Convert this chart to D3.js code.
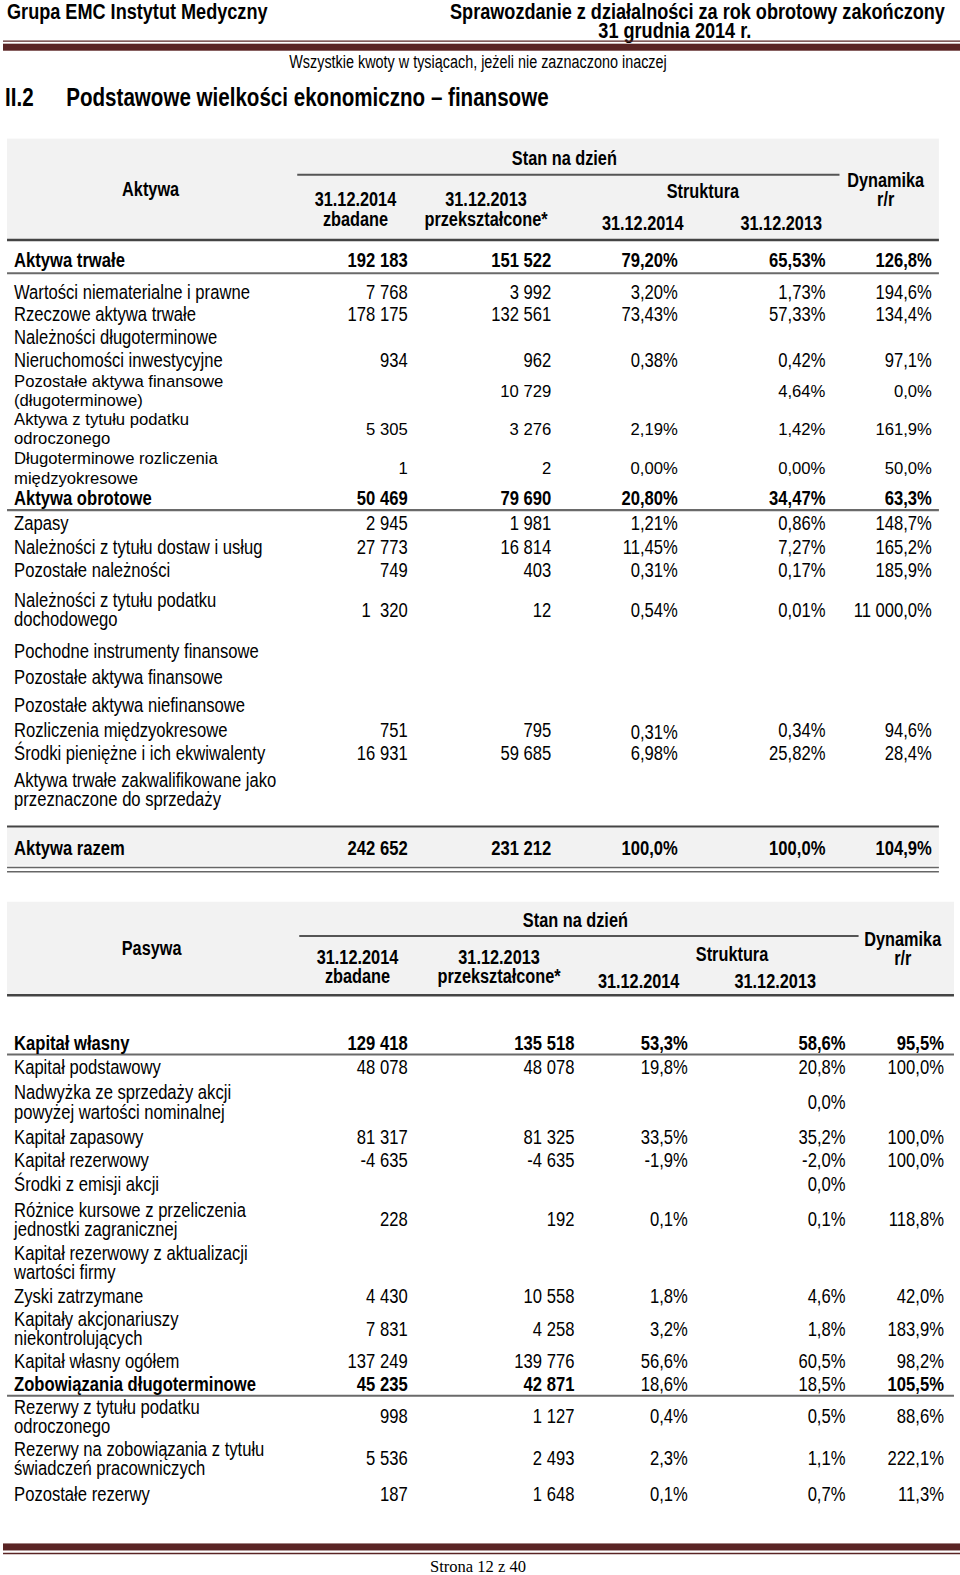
<!DOCTYPE html>
<html><head><meta charset="utf-8">
<script src="https://cdn.jsdelivr.net/npm/d3@7/dist/d3.min.js"></script>
<style>html,body{margin:0;padding:0;background:#fff}svg{display:block}text{white-space:pre}</style>
</head><body>
<script>
// ---------- DATA ----------
const assetLabels = [["Aktywa trwałe"],["Wartości niematerialne i prawne"],["Rzeczowe aktywa trwałe"],["Należności długoterminowe"],["Nieruchomości inwestycyjne"],["Pozostałe aktywa finansowe","(długoterminowe)"],["Aktywa z tytułu podatku","odroczonego"],["Długoterminowe rozliczenia","międzyokresowe"],["Aktywa obrotowe"],["Zapasy"],["Należności z tytułu dostaw i usług"],["Pozostałe należności"],["Należności z tytułu podatku","dochodowego"],["Pochodne instrumenty finansowe"],["Pozostałe aktywa finansowe"],["Pozostałe aktywa niefinansowe"],["Rozliczenia międzyokresowe"],["Środki pieniężne i ich ekwiwalenty"],["Aktywa trwałe zakwalifikowane jako","przeznaczone do sprzedaży"],["Aktywa razem"]];
const assetV2014 = ["192 183","7 768","178 175","","934","","5 305","1","50 469","2 945","27 773","749","1  320","","","","751","16 931","","242 652"];
const assetV2013 = ["151 522","3 992","132 561","","962","10 729","3 276","2","79 690","1 981","16 814","403","12","","","","795","59 685","","231 212"];
const assetS2014 = ["79,20%","3,20%","73,43%","","0,38%","","2,19%","0,00%","20,80%","1,21%","11,45%","0,31%","0,54%","","","","0,31%","6,98%","","100,0%"];
const assetS2013 = ["65,53%","1,73%","57,33%","","0,42%","4,64%","1,42%","0,00%","34,47%","0,86%","7,27%","0,17%","0,01%","","","","0,34%","25,82%","","100,0%"];
const assetDyn   = ["126,8%","194,6%","134,4%","","97,1%","0,0%","161,9%","50,0%","63,3%","148,7%","165,2%","185,9%","11 000,0%","","","","94,6%","28,4%","","104,9%"];

const liabLabels = [["Kapitał własny"],["Kapitał podstawowy"],["Nadwyżka ze sprzedaży akcji","powyżej wartości nominalnej"],["Kapitał zapasowy"],["Kapitał rezerwowy"],["Środki z emisji akcji"],["Różnice kursowe z przeliczenia","jednostki zagranicznej"],["Kapitał rezerwowy z aktualizacji","wartości firmy"],["Zyski zatrzymane"],["Kapitały akcjonariuszy","niekontrolujących"],["Kapitał własny ogółem"],["Zobowiązania długoterminowe"],["Rezerwy z tytułu podatku","odroczonego"],["Rezerwy na zobowiązania z tytułu","świadczeń pracowniczych"],["Pozostałe rezerwy"]];
const liabV2014 = ["129 418","48 078","","81 317","-4 635","","228","","4 430","7 831","137 249","45 235","998","5 536","187"];
const liabV2013 = ["135 518","48 078","","81 325","-4 635","","192","","10 558","4 258","139 776","42 871","1 127","2 493","1 648"];
const liabS2014 = ["53,3%","19,8%","","33,5%","-1,9%","","0,1%","","1,8%","3,2%","56,6%","18,6%","0,4%","2,3%","0,1%"];
const liabS2013 = ["58,6%","20,8%","0,0%","35,2%","-2,0%","0,0%","0,1%","","4,6%","1,8%","60,5%","18,5%","0,5%","1,1%","0,7%"];
const liabDyn   = ["95,5%","100,0%","","100,0%","100,0%","","118,8%","","42,0%","183,9%","98,2%","105,5%","88,6%","222,1%","11,3%"];

const headerCols = ["31.12.2014","zbadane","31.12.2013","przekształcone*","Struktura","Dynamika","r/r"];

// ---------- LAYOUT (styles / spacing) ----------
const assetRowStep = [0,31,22,23,23,31,38,39,30,25,23,23,40,41,26,28,25,23,36,58];
const liabRowStep  = [0,24,35,35,23,24,35,43,33,33,32,23,32,42,35];
const assetWide = new Set([5,6,7]);
const assetBold = {0:"all",8:"all",19:"all"};
const liabBold  = {0:"all",11:[0,1,2,5]};

// ---------- FONT HELPERS ----------
// Narrow (condensed) text is drawn with Liberation Sans compressed horizontally.
const SANS = '"Liberation Sans", Arial, sans-serif';
const NX = 0.82;

const W=960,H=1575;
const root=d3.select("body").append("svg").attr("width",W).attr("height",H);
const svg=root.append("g").attr("transform",`scale(${960/956})`);

// multi-line text in a single <text> element; lines: [{x,y,s,anchor}]
function txtLines(lines,o={}){
  const size=o.size||16, weight=o.bold?"bold":"normal";
  const narrow = o.narrow!==false && !o.serif;
  const fam = o.serif ? '"Liberation Serif","Times New Roman",serif' : SANS;
  const k = narrow ? NX : 1;
  const t=svg.append("text").attr("font-size",size).attr("font-weight",weight)
    .attr("font-family",fam).attr("fill",o.fill||"#000").attr("text-anchor",o.anchor||"start");
  if(narrow) t.attr("transform",`scale(${NX},1)`);
  t.selectAll("tspan").data(lines).join("tspan")
    .attr("x",d=>d.x/k).attr("y",d=>d.y).attr("dy","0.36em")
    .attr("text-anchor",d=>d.anchor||o.anchor||"start")
    .text(d=>d.s);
  return t;
}
function txt(x,y,str,o={}){ return txtLines([{x,y,s:str}],o); }
function hline(x1,x2,y,w,c){svg.append("line").attr("x1",x1).attr("x2",x2).attr("y1",y).attr("y2",y).attr("stroke",c).attr("stroke-width",w);}

// ---------- PAGE HEADER ----------
const maroon="#5a2424";
txt(7,11,"Grupa EMC Instytut Medyczny",{size:22,bold:true});
txtLines([{x:941,y:11,s:"Sprawozdanie z działalności za rok obrotowy zakończony",anchor:"end"},
          {x:672,y:29.5,s:"31 grudnia 2014 r.",anchor:"middle"}],{size:22,bold:true});
hline(3,957,41,1.3,maroon);
svg.append("rect").attr("x",3).attr("y",43.5).attr("width",954).attr("height",7).attr("fill",maroon);
txt(476,61,"Wszystkie kwoty w tysiącach, jeżeli nie zaznaczono inaczej",{size:17.5,anchor:"middle"});
txt(5,97,"II.2",{size:25,bold:true});
txt(66,97,"Podstawowe wielkości ekonomiczno – finansowe",{size:25,bold:true});

const HS=19.8; // header font size
const RS=20.2; // row font size (narrow)
const WS=16.6; // row font size (wide)

// ---------- TABLE DRAWER ----------
function drawTable(cfg){
  const n=cfg.labels.length;
  const ys=[]; let acc=cfg.firstY;
  cfg.steps.forEach((s,i)=>{acc+= (i===0?0:s); ys.push(acc);});
  const y=d3.scaleOrdinal().domain(d3.range(n)).range(ys);
  const colKeys=["v14","v13","s14","s13","dyn"];
  const x=d3.scaleOrdinal().domain(colKeys).range(cfg.colRight);
  const cols=[cfg.v14,cfg.v13,cfg.s14,cfg.s13,cfg.dyn];

  svg.append("rect").attr("x",cfg.left).attr("y",cfg.hTop).attr("width",cfg.right-cfg.left).attr("height",cfg.hBottom-cfg.hTop).attr("fill","#f2f2f2");
  const h=cfg.head, ho={size:HS,bold:true,anchor:"middle"};
  txt(h.titleX,h.titleY,cfg.title,ho);
  txt(h.stanX,h.stanY,"Stan na dzień",ho);
  hline(h.stanL,h.stanR,h.stanLineY,2,"#555");
  txtLines([{x:h.c1X,y:h.r1Y,s:headerCols[0]},{x:h.c1X,y:h.r2Y,s:headerCols[1]}],ho);
  txtLines([{x:h.c2X,y:h.r1Y,s:headerCols[2]},{x:h.c2X,y:h.r2Y,s:headerCols[3]}],ho);
  txt(h.strX,h.strY,headerCols[4],ho);
  txt(h.s1X,h.sY,headerCols[0],ho);
  txt(h.s2X,h.sY,headerCols[2],ho);
  txtLines([{x:h.dynX,y:h.dynY1,s:headerCols[5]},{x:h.dynX,y:h.dynY2,s:headerCols[6]}],ho);
  hline(cfg.left,cfg.right,cfg.hBottom+1,2.5,"#444");

  if(cfg.extra) cfg.extra(y);

  cfg.labels.forEach((lab,i)=>{
    const wide=cfg.wide.has(i);
    const b=cfg.bold[i];
    const isB=c=> b==="all" || (Array.isArray(b)&&b.includes(c));
    const size=wide?WS:RS;
    const lo=9.6;
    const lines = lab.length===1 ? [{x:cfg.labelX,y:y(i),s:lab[0]}]
      : [{x:cfg.labelX,y:y(i)-lo,s:lab[0]},{x:cfg.labelX,y:y(i)+lo,s:lab[1]}];
    txtLines(lines,{size,bold:isB(0),narrow:!wide});
    cols.forEach((arr,ci)=>{
      if(arr[i]) {
        const dy = (cfg.cellDy && cfg.cellDy[i+"_"+ci])||0;
        txt(x(colKeys[ci]),y(i)+dy,arr[i],{size,bold:isB(ci+1),anchor:"end",narrow:!wide});
      }
    });
  });
  return y;
}

// ---------- ASSETS TABLE ----------
drawTable({
  title:"Aktywa", labels:assetLabels, v14:assetV2014, v13:assetV2013, s14:assetS2014, s13:assetS2013, dyn:assetDyn,
  steps:assetRowStep, firstY:259, wide:assetWide, bold:assetBold,
  colRight:[406,549,675,822,928], labelX:14, left:7, right:935, hTop:138, hBottom:238,
  cellDy:{"16_2":2},
  head:{titleX:150,titleY:188,stanX:562,stanY:157,stanL:296,stanR:836,stanLineY:174,
        c1X:354,c2X:484,r1Y:198.5,r2Y:217.5,strX:700,strY:190,s1X:640,s2X:778,sY:222,dynX:882,dynY1:179,dynY2:198},
  extra:(y)=>{
    hline(7,935,y(0)+13,2,"#6a6a6a");
    hline(7,935,y(8)+12,2,"#6a6a6a");
    svg.append("rect").attr("x",7).attr("y",y(19)-20).attr("width",928).attr("height",38).attr("fill","#f2f2f2");
    hline(7,935,y(19)-21,2,"#444");
    hline(7,935,y(19)+20,1.5,"#666");
    hline(7,935,y(19)+24,1.5,"#666");
  }
});

// ---------- LIABILITIES TABLE ----------
drawTable({
  title:"Pasywa", labels:liabLabels, v14:liabV2014, v13:liabV2013, s14:liabS2014, s13:liabS2013, dyn:liabDyn,
  steps:liabRowStep, firstY:1038, wide:new Set(), bold:liabBold,
  colRight:[406,572,685,842,940], labelX:14, left:7, right:950, hTop:898, hBottom:990,
  head:{titleX:151,titleY:944,stanX:573,stanY:916,stanL:298,stanR:855,stanLineY:932,
        c1X:356,c2X:497,r1Y:952.5,r2Y:972,strX:729,strY:950,s1X:636,s2X:772,sY:977,dynX:899,dynY1:935,dynY2:954},
  extra:(y)=>{
    hline(7,950,y(0)+12,2,"#6a6a6a");
    hline(7,950,y(11)+12,2,"#6a6a6a");
  }
});

// ---------- FOOTER ----------
svg.append("rect").attr("x",3).attr("y",1537).attr("width",954).attr("height",7).attr("fill",maroon);
hline(3,957,1547,1.3,maroon);
txt(476,1560,"Strona 12 z 40",{size:16.5,anchor:"middle",serif:true});
</script>
</body></html>
